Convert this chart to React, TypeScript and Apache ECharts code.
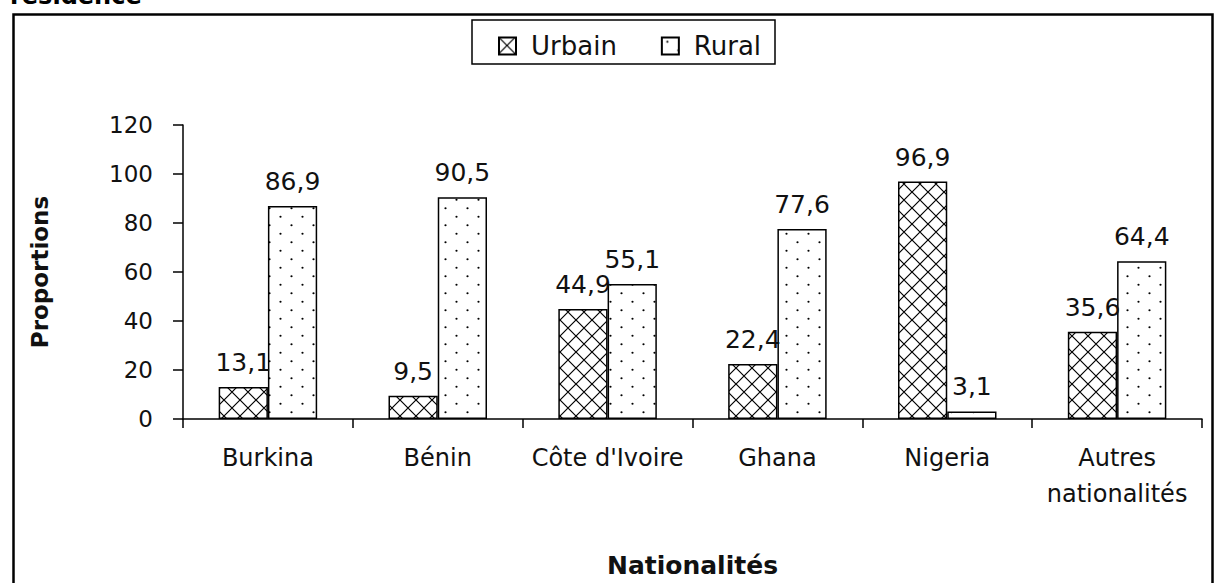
import React, { useEffect, useRef } from "react";
import * as echarts from "echarts";

const categories = ["Burkina", "Bénin", "Côte d'Ivoire", "Ghana", "Nigeria", "Autres\nnationalités"];
const urbain = [13.1, 9.5, 44.9, 22.4, 96.9, 35.6];
const rural = [86.9, 90.5, 55.1, 77.6, 3.1, 64.4];
const yTicks = { min: 0, max: 120, interval: 20 };

const FONT = "DejaVu Sans";

const crossSvg =
  "<svg xmlns='http://www.w3.org/2000/svg' width='16' height='16'><rect width='16' height='16' fill='white'/><path d='M0 0L16 16M16 0L0 16' stroke='black' stroke-width='1.2' fill='none'/></svg>";
const dotSvg =
  "<svg xmlns='http://www.w3.org/2000/svg' width='22' height='17'><rect width='22' height='17' fill='white'/><circle cx='5.5' cy='4.25' r='1.1' fill='black'/><circle cx='16.5' cy='12.75' r='1.1' fill='black'/></svg>";
const toUrl = (s: string) => "data:image/svg+xml;charset=utf-8," + encodeURIComponent(s);

export default function App() {
  const ref = useRef<HTMLDivElement>(null);
  useEffect(() => {
    if (!ref.current) return;
    const chart = echarts.init(ref.current, undefined, { renderer: "svg" });
    const crossPattern: any = { image: toUrl(crossSvg), repeat: "repeat", imageWidth: 16, imageHeight: 16 };
    const dotPattern: any = { image: toUrl(dotSvg), repeat: "repeat", imageWidth: 22, imageHeight: 17 };
    const fmt = (p: any) => String(p.value).replace(".", ",");
    const labelCfg = {
      show: true,
      position: "top" as const,
      distance: 12,
      color: "#111",
      fontFamily: FONT,
      fontSize: 25,
      formatter: fmt,
    };
    chart.setOption({
      animation: false,
      backgroundColor: "#fff",
      textStyle: { fontFamily: FONT },
      grid: { left: 183, right: 15, top: 125, bottom: 163, containLabel: false },
      legend: {
        left: 493,
        top: 28,
        icon: "rect",
        itemWidth: 17,
        itemHeight: 17,
        itemGap: 44,
        textStyle: { fontFamily: FONT, fontSize: 26, color: "#111", padding: [0, 0, 0, 10] },
        data: ["Urbain", "Rural"],
      },
      xAxis: {
        type: "category",
        data: categories,
        axisLine: { lineStyle: { color: "#000", width: 1.5 } },
        axisTick: { show: true, length: 9, lineStyle: { color: "#000", width: 1.5 } },
        axisLabel: {
          color: "#111",
          fontFamily: FONT,
          fontSize: 24,
          lineHeight: 36,
          margin: 21,
          interval: 0,
        },
        name: "Nationalités",
        nameLocation: "middle",
        nameGap: 134,
        nameTextStyle: { fontFamily: FONT, fontSize: 25, fontWeight: "bold", color: "#111" },
      },
      yAxis: {
        type: "value",
        min: yTicks.min,
        max: yTicks.max,
        interval: yTicks.interval,
        splitLine: { show: false },
        axisLine: { show: true, lineStyle: { color: "#000", width: 1.5 } },
        axisTick: { show: true, length: 10, lineStyle: { color: "#000", width: 1.5 } },
        axisLabel: { color: "#111", fontFamily: FONT, fontSize: 23, margin: 30 },
        name: "Proportions",
        nameLocation: "middle",
        nameGap: 132,
        nameTextStyle: { fontFamily: FONT, fontSize: 23, fontWeight: "bold", color: "#111" },
      },
      series: [
        {
          name: "Urbain",
          type: "bar",
          data: urbain,
          barGap: "0%",
          barCategoryGap: "42%",
          itemStyle: { color: crossPattern, borderColor: "#000", borderWidth: 1.5 },
          label: labelCfg,
        },
        {
          name: "Rural",
          type: "bar",
          data: rural,
          itemStyle: { color: dotPattern, borderColor: "#000", borderWidth: 1.5 },
          label: labelCfg,
        },
      ],
      graphic: [
        {
          type: "rect",
          shape: { x: 13.5, y: 14.5, width: 1199, height: 600 },
          style: { fill: "none", stroke: "#000", lineWidth: 2.5 },
          silent: true,
        },
        {
          type: "rect",
          shape: { x: 472, y: 20, width: 303, height: 44 },
          style: { fill: "none", stroke: "#000", lineWidth: 1.5 },
          silent: true,
        },
        {
          type: "text",
          x: 10,
          y: 8,
          style: {
            text: "résidence",
            fontFamily: FONT,
            fontSize: 24,
            fontWeight: "bold",
            fill: "#000",
            verticalAlign: "bottom",
          },
          silent: true,
        },
      ],
    });
    return () => chart.dispose();
  }, []);
  return (
    <div
      ref={ref}
      style={{ position: "fixed", left: 0, top: 0, width: 1217, height: 583, background: "#fff" }}
    />
  );
}
